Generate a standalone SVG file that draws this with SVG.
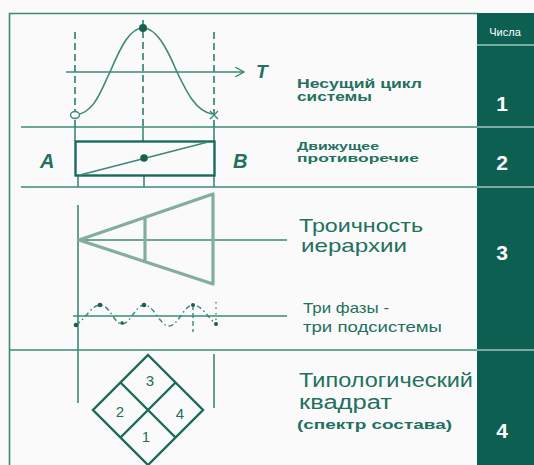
<svg xmlns="http://www.w3.org/2000/svg" width="534" height="465" viewBox="0 0 534 465">
<defs>
<style>
.ln{stroke:#3d8878;stroke-width:1.6;fill:none}
.dk{stroke:#1a6a5a;stroke-width:2.4;fill:none}
.dash{stroke:#2e7d6e;stroke-width:1.6;fill:none;stroke-dasharray:7 4}
.tri{stroke:#84ada0;stroke-width:3.2;fill:none;stroke-linejoin:round}
.txt{font-family:"Liberation Sans",Arial,sans-serif;fill:#23705f}
.num{font-family:"Liberation Sans",Arial,sans-serif;fill:#ffffff;font-weight:bold;font-size:21px}
.dot{fill:#1a6050}
</style>
<marker id="arr" viewBox="0 0 10 10" refX="9" refY="5" markerWidth="10" markerHeight="10" markerUnits="userSpaceOnUse" orient="auto">
<path d="M0,0 L9,5 L0,10" fill="none" stroke="#3d8878" stroke-width="1.4"/>
</marker>
</defs>
<rect width="534" height="465" fill="#fafafa"/>
<g id="frame">
<path class="ln" d="M9.5,465 V13.5 H478" stroke-width="2"/>
<line class="ln" x1="21" y1="127" x2="478" y2="127"/>
<line class="ln" x1="21" y1="187" x2="478" y2="187"/>
<line class="ln" x1="9.5" y1="350" x2="478" y2="350"/>
</g>
<g id="numbers-column">
<rect x="477" y="13" width="57" height="452" fill="#0c5f51"/>
<g stroke="#9cc6bb" stroke-width="1.6">
<line x1="477" y1="45" x2="534" y2="45"/>
<line x1="477" y1="127" x2="534" y2="127"/>
<line x1="477" y1="187" x2="534" y2="187"/>
<line x1="477" y1="350" x2="534" y2="350"/>
</g>
<text x="505" y="36" text-anchor="middle" font-family="Liberation Sans, Arial, sans-serif" font-size="11" fill="#ffffff">Числа</text>
<text class="num" x="502" y="111" text-anchor="middle">1</text>
<text class="num" x="502" y="170" text-anchor="middle">2</text>
<text class="num" x="502" y="260" text-anchor="middle">3</text>
<text class="num" x="502" y="438" text-anchor="middle">4</text>
</g>
<g id="row1">
<line class="dash" x1="75" y1="32" x2="75" y2="127"/>
<line class="dash" x1="143" y1="20" x2="143" y2="127"/>
<line class="dash" x1="214" y1="32" x2="214" y2="127"/>
<line class="ln" x1="66" y1="72" x2="244" y2="72" marker-end="url(#arr)"/>
<path class="ln" d="M76,115 C95,112 101,90 110,72 C121,46 130,28 143,28 C156,28 166,46 177,72 C187,93 196,111 212,114"/>
<circle cx="143" cy="28" r="4" class="dot"/>
<ellipse cx="75" cy="115" rx="4.5" ry="3.5" fill="#fafafa" stroke="#3d8878" stroke-width="1.4"/>
<path d="M210,111 L218,119 M218,111 L210,119" stroke="#3d8878" stroke-width="1.4"/>
<text class="txt" x="256" y="78" font-size="19" font-weight="bold" font-style="italic" fill="#1a6a5a">T</text>
<text class="txt" x="297" y="88" font-size="12.5" font-weight="bold" textLength="125" lengthAdjust="spacingAndGlyphs">Несущий цикл</text>
<text class="txt" x="297" y="101" font-size="12.5" font-weight="bold" textLength="75" lengthAdjust="spacingAndGlyphs">системы</text>
</g>
<g id="row2">
<line class="ln" x1="75" y1="127" x2="75" y2="141"/>
<line class="ln" x1="143" y1="127" x2="143" y2="141"/>
<line class="ln" x1="214" y1="127" x2="214" y2="141"/>
<line class="ln" x1="78" y1="176" x2="78" y2="187"/>
<line class="ln" x1="144" y1="176" x2="144" y2="187"/>
<line class="ln" x1="214" y1="176" x2="214" y2="187"/>
<rect class="dk" x="75.5" y="141.5" width="139" height="34"/>
<line class="ln" x1="80" y1="175" x2="208" y2="142" stroke-width="1.4"/>
<circle cx="144" cy="158" r="3.8" class="dot"/>
<text class="txt" x="40" y="168" font-size="20" font-weight="bold" font-style="italic" fill="#1a6a5a">A</text>
<text class="txt" x="233" y="168" font-size="20" font-weight="bold" font-style="italic" fill="#1a6a5a">B</text>
<text class="txt" x="297" y="150" font-size="11.5" font-weight="bold" textLength="82" lengthAdjust="spacingAndGlyphs">Движущее</text>
<text class="txt" x="297" y="162" font-size="11.5" font-weight="bold" textLength="122" lengthAdjust="spacingAndGlyphs">противоречие</text>
</g>
<g id="row3">
<line class="ln" x1="78" y1="205" x2="78" y2="403"/>
<line class="ln" x1="78" y1="240" x2="287" y2="240"/>
<path class="tri" d="M79,240 L213,194 L213,284 Z M145,217 V262"/>
<text class="txt" x="299" y="232" font-size="18.5" textLength="124" lengthAdjust="spacingAndGlyphs">Троичность</text>
<text class="txt" x="301" y="252" font-size="18.5" textLength="106" lengthAdjust="spacingAndGlyphs">иерархии</text>
<line class="ln" x1="73" y1="316" x2="287" y2="316"/>
<path d="M76,325 C86,318 92,305 100,305 C110,305 114,324 122,324 C130,324 136,305 144,305 C154,305 160,326 169,326 C178,326 184,305 193,305 C202,305 208,318 216,324" fill="none" stroke="#3d8878" stroke-width="1.5" stroke-dasharray="5 3 1.5 3"/>
<line x1="193" y1="305" x2="193" y2="332" stroke="#3d8878" stroke-width="1.4" stroke-dasharray="5 3"/>
<line x1="216" y1="302" x2="216" y2="326" stroke="#3d8878" stroke-width="1.4" stroke-dasharray="1.5 4"/>
<g class="dot">
<circle cx="76" cy="325" r="2.3"/>
<circle cx="100" cy="305" r="2.3"/>
<circle cx="122" cy="323" r="1.8"/>
<circle cx="144" cy="305" r="2.3"/>
<circle cx="193" cy="305" r="2"/>
<circle cx="216" cy="324" r="2"/>
</g>
<text class="txt" x="303" y="313" font-size="14.5" textLength="86" lengthAdjust="spacingAndGlyphs">Три фазы -</text>
<text class="txt" x="303" y="332" font-size="14.5" textLength="139" lengthAdjust="spacingAndGlyphs">три подсистемы</text>
</g>
<g id="row4">
<line class="ln" x1="214" y1="354" x2="214" y2="408"/>
<path class="dk" d="M148,355 L203,410 L148,465 L93,410 Z M120.5,382.5 L175.5,437.5 M175.5,382.5 L120.5,437.5" stroke-width="2.6"/>
<g class="txt" font-size="15" text-anchor="middle" fill="#2a6a5c">
<text x="150" y="386">3</text>
<text x="120" y="417">2</text>
<text x="180" y="419">4</text>
<text x="146" y="442">1</text>
</g>
<text class="txt" x="299" y="387" font-size="19.5" textLength="174" lengthAdjust="spacingAndGlyphs">Типологический</text>
<text class="txt" x="299" y="409" font-size="19.5" textLength="93" lengthAdjust="spacingAndGlyphs">квадрат</text>
<text class="txt" x="297" y="429" font-size="13" font-weight="bold" textLength="155" lengthAdjust="spacingAndGlyphs">(спектр состава)</text>
</g>
</svg>
